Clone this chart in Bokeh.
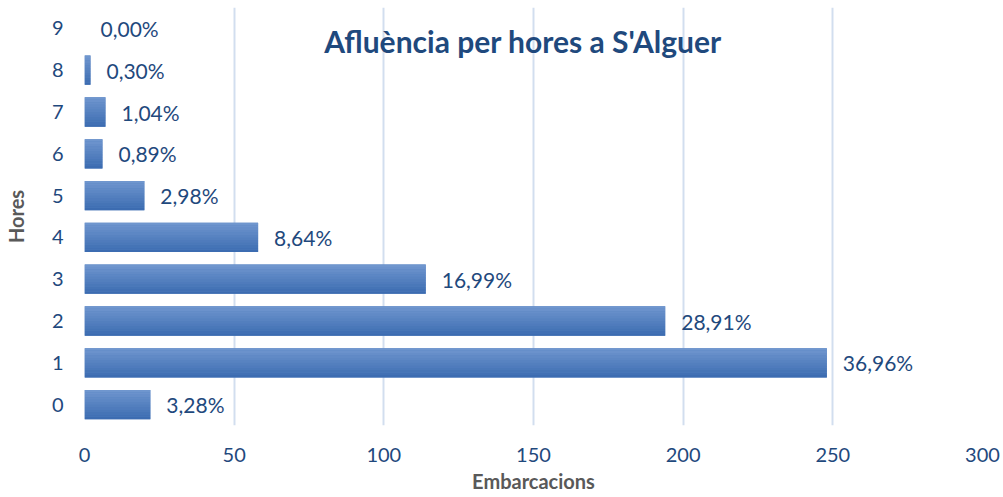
from bokeh.plotting import figure
from bokeh.models import Range1d, FixedTicker, Label, ColumnDataSource
from bokeh.core.properties import value
from bokeh.embed import file_html
from bokeh.resources import INLINE

hours = [0, 1, 2, 3, 4, 5, 6, 7, 8, 9]
boats = [22, 248, 194, 114, 58, 20, 6, 7, 2, 0]
pct_labels = ["3,28%", "36,96%", "28,91%", "16,99%", "8,64%", "2,98%", "0,89%", "1,04%", "0,30%", "0,00%"]
x_ticks = [0, 50, 100, 150, 200, 250, 300]
title_text = "Afluència per hores a S'Alguer"

FONT = "Lato"
TXT = "#1F497D"

p = figure(width=1003, height=497, output_backend="svg", toolbar_location=None,
           x_range=Range1d(0, 300), y_range=Range1d(-0.5, 9.5),
           min_border_left=84, min_border_right=21, min_border_top=7, min_border_bottom=72)
p.outline_line_color = None
p.background_fill_color = "white"
p.border_fill_color = "white"

# gradient bars: base bar + stack of thin strips, lighter at top
bar_h = 0.7
p.hbar(y=hours, right=boats, left=0, height=bar_h, fill_color="#5480C0", line_color=None)
N = 12
top = (0x72, 0x98, 0xD0)
bot = (0x3A, 0x6B, 0xB0)
for k in range(N):
    t = (k + 0.5) / N
    col = tuple(int(bot[j] + (top[j] - bot[j]) * t) for j in range(3))
    hexcol = "#%02x%02x%02x" % col
    ys = [h - bar_h / 2 + (k + 0.5) * bar_h / N for h in hours]
    p.hbar(y=ys, right=boats, left=0, height=bar_h / N,
           fill_color=hexcol, line_color=None)

src = ColumnDataSource(dict(x=boats, y=hours, t=pct_labels))
p.text(x="x", y="y", text="t", source=src, x_offset=16,
       text_font=value(FONT), text_font_size="21px", text_color=TXT,
       text_baseline="middle", text_align="left")

p.add_layout(Label(x=146.5, y=8.7, text=title_text, text_font=FONT,
                   text_font_size="30px", text_font_style="bold", text_color=TXT,
                   text_align="center", text_baseline="middle"))

p.xgrid.grid_line_color = "#D2DEEF"
p.xgrid.grid_line_width = 2
p.ygrid.grid_line_color = None
p.xaxis.ticker = FixedTicker(ticks=x_ticks)
p.yaxis.ticker = FixedTicker(ticks=hours)

for ax in (p.xaxis, p.yaxis):
    ax.axis_line_color = None
    ax.major_tick_line_color = None
    ax.minor_tick_line_color = None
    ax.major_tick_out = 0
    ax.major_tick_in = 0
    ax.major_label_text_font = FONT
    ax.major_label_text_font_size = "20px"
    ax.major_label_text_color = TXT
    ax.axis_label_text_font = FONT
    ax.axis_label_text_font_size = "20px"
    ax.axis_label_text_font_style = "bold"
    ax.axis_label_text_color = "#595959"

p.xaxis.axis_label = "Embarcacions"
p.yaxis.axis_label = "Hores"
p.xaxis.major_label_standoff = 22
p.yaxis.major_label_standoff = 21
p.xaxis.axis_label_standoff = 4
p.yaxis.axis_label_standoff = 21

open("out.html", "w").write(file_html(p, INLINE))
